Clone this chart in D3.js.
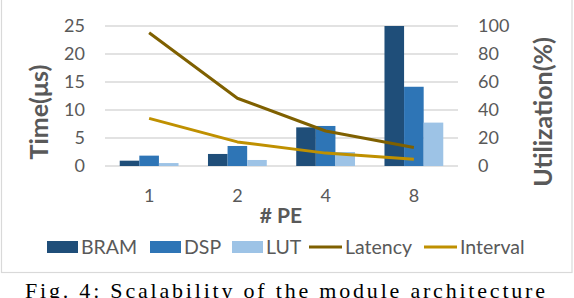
<!DOCTYPE html>
<html>
<head>
<meta charset="utf-8">
<script src="https://cdn.jsdelivr.net/npm/d3@7"></script>
<style>
  body { margin: 0; background: #fff; }
  text { font-family: Lato, "Open Sans", sans-serif; }
</style>
</head>
<body>
<div id="canvas"></div>
<script>
"use strict"

/* Data */
let peCounts = ["1", "2", "4", "8"];
let bramUtil = [3.8, 8.6, 27.6, 100];
let dspUtil = [7.4, 14.3, 28.6, 56.6];
let lutUtil = [2.1, 4.3, 10, 31];
let latency = [23.8, 12.1, 6.25, 3.3];
let interval = [8.5, 4.3, 2.3, 1.2];
let timeTicks = [0, 5, 10, 15, 20, 25];
let utilTicks = [0, 20, 40, 60, 80, 100];

/* Drawing config */
let svgWidth = 574;
let svgHeight = 298;
let plotLeft = 105;
let plotRight = 458;
let plotTop = 26;
let plotBottom = 166;
let grey = "#595959";

let barSeries = [
    { name: "BRAM", values: bramUtil, color: "#1f4e79" },
    { name: "DSP", values: dspUtil, color: "#2e75b6" },
    { name: "LUT", values: lutUtil, color: "#9dc3e6" }
];
let lineSeries = [
    { name: "Latency", values: latency, color: "#7f6000" },
    { name: "Interval", values: interval, color: "#bf9000" }
];

let svg = d3.select("#canvas")
    .append("svg")
    .attr("width", svgWidth)
    .attr("height", svgHeight);

/* chart frame */
svg.append("rect")
    .attr("x", 1.5)
    .attr("y", -1)
    .attr("width", 570.5)
    .attr("height", 273.5)
    .attr("fill", "#fff")
    .attr("stroke", "#d9d9d9")
    .attr("stroke-width", 1.2);

let xScale = d3.scaleBand()
    .domain(peCounts)
    .range([plotLeft, plotRight]);

let barWidth = 19.6;
let xInner = d3.scaleBand()
    .domain(barSeries.map(d => d.name))
    .range([0, barWidth * 3]);

let yTime = d3.scaleLinear()
    .domain([0, 25])
    .range([plotBottom, plotTop]);

let yUtil = d3.scaleLinear()
    .domain([0, 100])
    .range([plotBottom, plotTop]);

/* gridlines */
svg.append("g")
    .selectAll("line")
    .data(timeTicks)
    .join("line")
    .attr("x1", plotLeft)
    .attr("x2", plotRight)
    .attr("y1", d => yTime(d))
    .attr("y2", d => yTime(d))
    .attr("stroke", "#d9d9d9")
    .attr("stroke-width", 1.3);

/* left axis */
let leftAxis = svg.append("g")
    .attr("transform", `translate(${plotLeft - 20},0)`)
    .call(d3.axisLeft(yTime).tickValues(timeTicks).tickSize(0).tickPadding(0));
leftAxis.select(".domain").remove();
leftAxis.selectAll("text")
    .attr("fill", grey)
    .style("font-size", "18px")
    .style("font-family", "Lato, sans-serif");

/* right axis */
let rightAxis = svg.append("g")
    .attr("transform", `translate(${plotRight + 20},0)`)
    .call(d3.axisRight(yUtil).tickValues(utilTicks).tickSize(0).tickPadding(0));
rightAxis.select(".domain").remove();
rightAxis.selectAll("text")
    .attr("fill", grey)
    .style("font-size", "18px")
    .style("font-family", "Lato, sans-serif");

/* bottom axis labels */
let bottomAxis = svg.append("g")
    .attr("transform", `translate(0,${plotBottom + 23})`)
    .call(d3.axisBottom(xScale).tickSize(0).tickPadding(0));
bottomAxis.select(".domain").remove();
bottomAxis.selectAll("text")
    .attr("fill", grey)
    .style("font-size", "18px")
    .style("font-family", "Lato, sans-serif");

/* bars */
let barGroups = svg.append("g")
    .selectAll("g")
    .data(barSeries)
    .join("g")
    .attr("fill", d => d.color);

barGroups.selectAll("rect")
    .data(s => s.values.map((v, i) => ({ name: s.name, pe: peCounts[i], value: v })))
    .join("rect")
    .attr("x", d => xScale(d.pe) + (xScale.bandwidth() - barWidth * 3) / 2 + xInner(d.name))
    .attr("y", d => yUtil(d.value))
    .attr("width", xInner.bandwidth())
    .attr("height", d => plotBottom - yUtil(d.value));

/* lines */
let line = d3.line()
    .x((d, i) => xScale(peCounts[i]) + xScale.bandwidth() / 2)
    .y(d => yTime(d));

svg.append("g")
    .selectAll("path")
    .data(lineSeries)
    .join("path")
    .attr("d", d => line(d.values))
    .attr("fill", "none")
    .attr("stroke", d => d.color)
    .attr("stroke-width", 3)
    .attr("stroke-linejoin", "round");

/* axis titles */
svg.append("text")
    .attr("transform", "translate(48,112) rotate(-90)")
    .attr("text-anchor", "middle")
    .attr("fill", grey)
    .style("font-size", "25px")
    .style("font-weight", "bold")
    .text("Time(μs)");

svg.append("text")
    .attr("transform", "translate(552,112) rotate(-90)")
    .attr("text-anchor", "middle")
    .attr("fill", grey)
    .style("font-size", "25px")
    .style("font-weight", "bold")
    .text("Utilization(%)");

svg.append("text")
    .attr("x", 281)
    .attr("y", 223)
    .attr("text-anchor", "middle")
    .attr("fill", grey)
    .style("font-size", "21px")
    .style("font-weight", "bold")
    .text("# PE");

/* legend */
let legendY = 247;
let legendItems = [
    { name: "BRAM", color: barSeries[0].color, type: "rect", x: 47 },
    { name: "DSP", color: barSeries[1].color, type: "rect", x: 150 },
    { name: "LUT", color: barSeries[2].color, type: "rect", x: 232 },
    { name: "Latency", color: lineSeries[0].color, type: "line", x: 309 },
    { name: "Interval", color: lineSeries[1].color, type: "line", x: 424 }
];

let legend = svg.append("g")
    .selectAll("g")
    .data(legendItems)
    .join("g")
    .attr("transform", d => `translate(${d.x},${legendY})`);

legend.filter(d => d.type == "rect")
    .append("rect")
    .attr("x", 0)
    .attr("y", -6)
    .attr("width", 31)
    .attr("height", 12)
    .attr("fill", d => d.color);

legend.filter(d => d.type == "line")
    .append("line")
    .attr("x1", 0)
    .attr("x2", 33)
    .attr("y1", 0)
    .attr("y2", 0)
    .attr("stroke", d => d.color)
    .attr("stroke-width", 3);

legend.append("text")
    .attr("x", d => d.type == "rect" ? 34 : 36)
    .attr("y", 0)
    .attr("dy", "0.35em")
    .attr("fill", grey)
    .style("font-size", "19.5px")
    .text(d => d.name);

/* caption, its descenders cut by the page bottom as in the figure */
svg.append("text")
    .attr("x", 25)
    .attr("y", 297.5)
    .attr("textLength", 520)
    .attr("fill", "#000")
    .style("font-family", "'Liberation Serif', 'DejaVu Serif', serif")
    .style("font-size", "22px")
    .text("Fig. 4: Scalability of the module architecture");
</script>
</body>
</html>
